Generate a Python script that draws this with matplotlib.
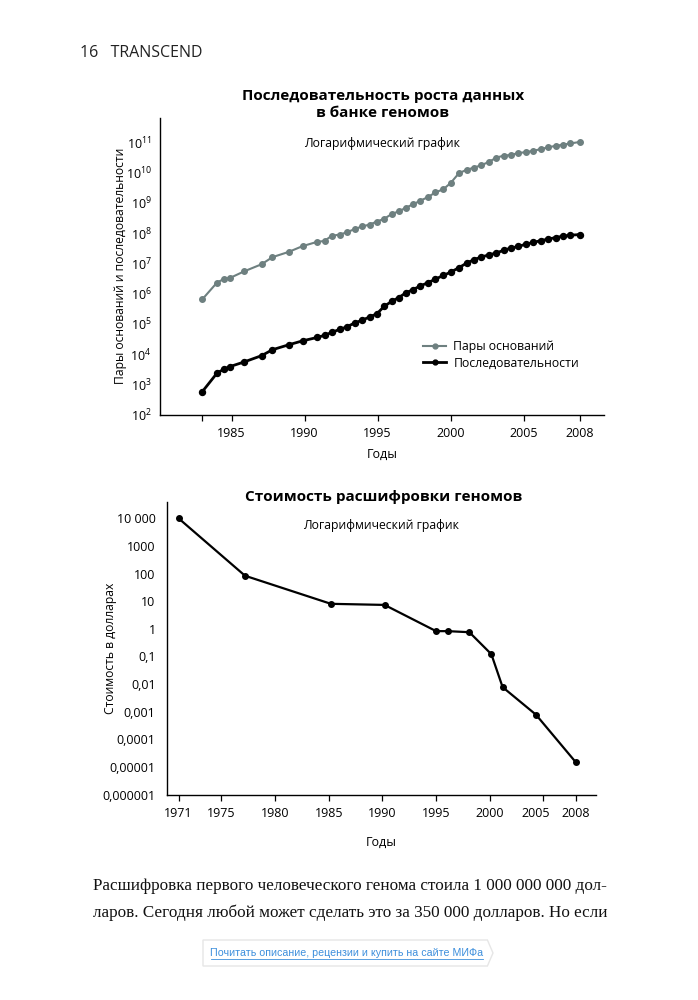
#!/usr/bin/env python
import matplotlib
matplotlib.use("Agg")
import matplotlib.pyplot as plt
from matplotlib.patches import Polygon
from matplotlib.lines import Line2D
from matplotlib.transforms import ScaledTranslation

plt.rcParams['font.family'] = ['Open Sans', 'DejaVu Sans']
plt.rcParams['mathtext.fontset'] = 'custom'
plt.rcParams['mathtext.rm'] = 'Open Sans'

# ---- data: genbank growth (log chart) ----
gb_years = [1983.0, 1984.0, 1984.45, 1984.9, 1985.85, 1987.05, 1987.8, 1988.93,
            1989.86, 1990.85, 1991.37, 1991.85, 1992.4, 1992.88, 1993.42, 1993.95,
            1994.45, 1994.95, 1995.45, 1995.98, 1996.45, 1996.92, 1997.42, 1997.93,
            1998.45, 1998.96, 1999.5, 2000.0, 2000.57, 2001.1, 2001.6, 2002.1,
            2002.62, 2003.13, 2003.63, 2004.13, 2004.63, 2005.15, 2005.65, 2006.16,
            2006.68, 2007.19, 2007.7, 2008.2, 2008.84]
base_pairs = [6.5e5, 2.3e6, 3.0e6, 3.3e6, 5.4e6, 9.3e6, 1.6e7, 2.4e7,
              3.7e7, 5.1e7, 5.5e7, 8.1e7, 8.9e7, 1.05e8, 1.35e8, 1.66e8,
              1.9e8, 2.4e8, 2.95e8, 4.3e8, 5.2e8, 6.8e8, 8.9e8, 1.17e9,
              1.55e9, 2.2e9, 2.8e9, 4.5e9, 9.5e9, 1.23e10, 1.45e10, 1.74e10,
              2.24e10, 3.1e10, 3.6e10, 3.8e10, 4.4e10, 4.7e10, 5.2e10, 5.9e10,
              6.8e10, 7.6e10, 8.3e10, 9.1e10, 1.02e11]
sequences = [580, 2350, 3150, 3900, 5500, 8900, 1.4e4, 2.05e4,
             2.75e4, 3.55e4, 4.2e4, 5.2e4, 6.6e4, 7.9e4, 1.07e5, 1.32e5,
             1.7e5, 2.15e5, 3.8e5, 5.6e5, 7.4e5, 1.05e6, 1.35e6, 1.8e6,
             2.3e6, 3.0e6, 4.0e6, 5.1e6, 7.2e6, 1.02e7, 1.32e7, 1.62e7,
             1.9e7, 2.2e7, 2.7e7, 3.2e7, 3.6e7, 4.3e7, 4.9e7, 5.6e7,
             6.3e7, 7.1e7, 7.9e7, 8.5e7, 8.9e7]
gb_xticks = [1983, 1985, 1990, 1995, 2000, 2005]
gb_xlabels = ['', '1985', '1990', '1995', '2000', '2005', '2008']
gb_yticks = [1e2, 1e3, 1e4, 1e5, 1e6, 1e7, 1e8, 1e9, 1e10, 1e11]

# ---- data: sequencing cost ----
cost_years = [1971, 1977.2, 1985.2, 1990.2, 1995.0, 1996.1, 1998.1, 2000.15,
              2001.2, 2004.3, 2008.0]
cost = [1e4, 83, 8.0, 7.3, 0.82, 0.82, 0.75, 0.12, 0.0077, 0.00078, 1.5e-5]
cost_xticks = [1971, 1975, 1980, 1985, 1990, 1995, 2000, 2005, 2008]
cost_yticks = [1e4, 1e3, 1e2, 10, 1, 0.1, 0.01, 1e-3, 1e-4, 1e-5, 1e-6]
cost_ylabels = ['10 000', '1000', '100', '10', '1', '0,1', '0,01', '0,001',
                '0,0001', '0,00001', '0,000001']

GRAY = '#6e8080'

fig = plt.figure(figsize=(6.98, 10), dpi=100)

# page header
fig.text(80 / 698, 1 - 53 / 1000, '16   TRANSCEND', fontsize=11.5, va='center',
         ha='left', color='#222222')


def style_axes(ax):
    for s in ['top', 'right']:
        ax.spines[s].set_visible(False)
    ax.spines['left'].set_linewidth(1.0)
    ax.spines['bottom'].set_linewidth(1.0)
    ax.tick_params(axis='y', length=0, labelsize=9, pad=6)
    ax.tick_params(axis='x', length=4, width=0.9, labelsize=9, pad=5, direction='out')


# ---- top chart ----
ax1 = fig.add_axes([160 / 698, 1 - 414.7 / 1000, 444 / 698, 296.7 / 1000])
style_axes(ax1)
ax1.set_yscale('log')
ax1.plot(gb_years, base_pairs, color=GRAY, lw=1.5, marker='o', ms=4.0,
         label='Пары оснований')
ax1.plot(gb_years, sequences, color='black', lw=2.0, marker='o', ms=4.3,
         label='Последовательности')
ax1.set_xlim(1980.1, 2010.5)
ax1.set_ylim(1e2, 10 ** 11.8)
ax1.set_xticks(gb_xticks + [gb_years[-1]])
ax1.set_xticklabels(gb_xlabels)
ax1.set_yticks(gb_yticks)
ax1.set_yticklabels([r'$\mathregular{10^{%d}}$' % i for i in range(2, 12)])
ax1.minorticks_off()
ax1.set_xlabel('Годы', fontsize=9, labelpad=5.5)
ax1.set_ylabel('Пары оснований и последовательности', fontsize=8.7)
ax1.yaxis.set_label_coords((127 - 160) / 444, 0.5)
ax1.text(0.5, 1 - (143 - 118) / 296.7, 'Логарифмический график', transform=ax1.transAxes,
         ha='center', va='center', fontsize=8.8)
leg = ax1.legend(loc='upper left', bbox_to_anchor=(258 / 444, 1 - (335 - 118) / 296.7),
                 frameon=False, fontsize=8.8, handlelength=1.9, handletextpad=0.6,
                 labelspacing=0.3, borderaxespad=0)
for h in leg.legend_handles:
    h.set_markersize(3.5)
fig.text(383 / 698, 1 - 104.5 / 1000, 'Последовательность роста данных\nв банке геномов',
         ha='center', va='center', fontsize=11, fontweight='bold', linespacing=1.2)

# ---- bottom chart ----
ax2 = fig.add_axes([166.7 / 698, 1 - 794.5 / 1000, 429.3 / 698, 292.8 / 1000])
style_axes(ax2)
ax2.set_yscale('log')
ax2.plot(cost_years, cost, color='black', lw=1.6, marker='o', ms=4.0)
ax2.set_xlim(1969.9, 2009.9)
ax2.set_ylim(1e-6, 10 ** 4.6)
ax2.set_xticks(cost_xticks)
ax2.set_xticklabels([str(y) for y in cost_xticks])
ax2.set_yticks(cost_yticks)
ax2.set_yticklabels(cost_ylabels)
ax2.minorticks_off()
ax2.tick_params(axis='y', pad=8)
# nudge "2005" left so it does not run into "2008"
lbl = ax2.get_xticklabels()[7]
lbl.set_transform(lbl.get_transform() + ScaledTranslation(-0.08, 0, fig.dpi_scale_trans))
ax2.set_xlabel('Годы', fontsize=9, labelpad=11.5)
ax2.set_ylabel('Стоимость в долларах', fontsize=8.7)
ax2.yaxis.set_label_coords((117 - 166.7) / 429.3, 0.5)
ax2.text(0.5, 1 - (525 - 501.7) / 292.8, 'Логарифмический график', transform=ax2.transAxes,
         ha='center', va='center', fontsize=8.8)
fig.text(384 / 698, 1 - 497 / 1000, 'Стоимость расшифровки геномов',
         ha='center', va='center', fontsize=11, fontweight='bold')

# ---- body text ----
fig.text(93 / 698, 1 - 886 / 1000,
         'Расшифровка первого человеческого генома стоила 1 000 000 000 дол-',
         family=['Liberation Serif', 'DejaVu Serif'], fontsize=12.3, va='center',
         color='#111111')
fig.text(93 / 698, 1 - 913 / 1000,
         'ларов. Сегодня любой может сделать это за 350 000 долларов. Но если',
         family=['Liberation Serif', 'DejaVu Serif'], fontsize=12.3, va='center',
         color='#111111')

# ---- link box ----
bx0, bx1, by0, by1 = 203 / 698, 493 / 698, 1 - 966 / 1000, 1 - 940 / 1000
box = Polygon([(bx0, by0), (bx1 - 0.008, by0), (bx1, (by0 + by1) / 2),
               (bx1 - 0.008, by1), (bx0, by1)], closed=True, transform=fig.transFigure,
              facecolor='white', edgecolor='#e6e6e6', lw=1.0)
fig.add_artist(box)
fig.text(347 / 698, 1 - 953 / 1000, 'Почитать описание, рецензии и купить на сайте МИФа',
         family=['Liberation Sans', 'DejaVu Sans'], fontsize=7.7, color='#3d8fdc',
         ha='center', va='center')
fig.add_artist(Line2D([211 / 698, 483 / 698], [1 - 958.5 / 1000, 1 - 958.5 / 1000],
                      transform=fig.transFigure, color='#3d8fdc', lw=0.6))

fig.savefig('out.png', dpi=100)
